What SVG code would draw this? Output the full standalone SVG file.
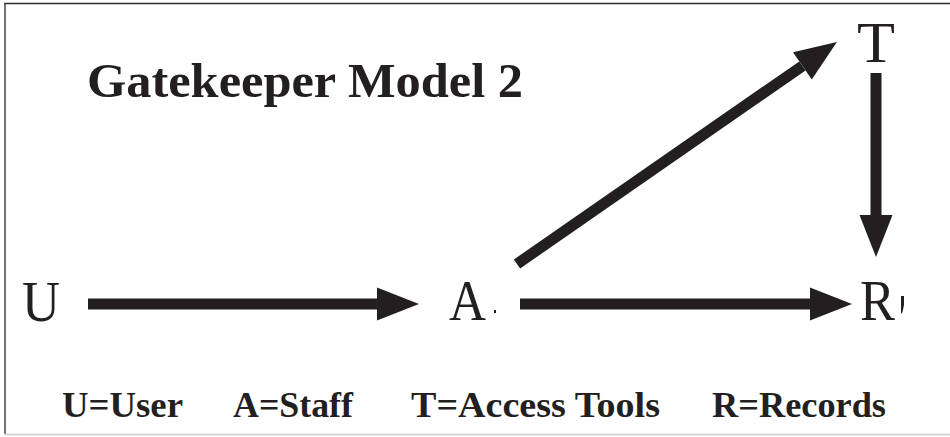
<svg xmlns="http://www.w3.org/2000/svg" width="950" height="437" viewBox="0 0 950 437">
  <style>
    .node { font-family: "Liberation Serif", "DejaVu Serif", serif; font-size: 57px; fill: #231f20; }
    .title { font-family: "Liberation Serif", "DejaVu Serif", serif; font-size: 48px; font-weight: bold; fill: #231f20; }
    .legend { font-family: "Liberation Serif", "DejaVu Serif", serif; font-size: 36px; font-weight: bold; fill: #231f20; }
    .edge { stroke: #231f20; stroke-width: 11; fill: none; marker-end: url(#head); }
  </style>
  <defs>
    <marker id="head" markerUnits="userSpaceOnUse" markerWidth="42" markerHeight="33" refX="0" refY="16.5" orient="auto" overflow="visible">
      <path d="M0,0 L42,16.5 L0,33 Z" fill="#231f20"/>
    </marker>
  </defs>

  <rect width="950" height="437" fill="#ffffff"/>

  <!-- frame: top and left rules, pale bottom rule -->
  <line x1="4" y1="3.5" x2="950" y2="3.5" stroke="#2a2a2a" stroke-width="1.5"/>
  <line x1="5" y1="3" x2="5" y2="434" stroke="#444444" stroke-width="1.5"/>
  <line x1="5" y1="434.5" x2="950" y2="434.5" stroke="#d4d4d4" stroke-width="2"/>

  <text class="title" x="87" y="97" textLength="436" lengthAdjust="spacingAndGlyphs">Gatekeeper Model 2</text>

  <g id="connectors">
    <line class="edge" x1="88" y1="304" x2="377" y2="304"/>
    <line class="edge" x1="520" y1="304" x2="810" y2="304"/>
    <line class="edge" x1="876" y1="73" x2="876" y2="215"/>
    <line class="edge" x1="517" y1="264" x2="802.4" y2="65.9"/>
  </g>

  <g id="node-U">
    <text class="node" x="22" y="321" textLength="38" lengthAdjust="spacingAndGlyphs">U</text>
  </g>
  <g id="node-A">
    <text class="node" x="449" y="320" textLength="37" lengthAdjust="spacingAndGlyphs">A</text>
    <rect x="494" y="310" width="2" height="3" fill="#231f20"/>
  </g>
  <g id="node-T">
    <text class="node" x="857" y="62" textLength="38" lengthAdjust="spacingAndGlyphs">T</text>
  </g>
  <g id="node-R">
    <text class="node" x="860" y="320" textLength="35" lengthAdjust="spacingAndGlyphs">R</text>
    <path d="M901,296 L904,296 L904,305 L902.5,312 L901,314 Z" fill="#231f20"/>
  </g>

  <g id="legend">
    <text class="legend" x="62" y="417" textLength="121" lengthAdjust="spacingAndGlyphs">U=User</text>
    <text class="legend" x="233" y="417" textLength="120" lengthAdjust="spacingAndGlyphs">A=Staff</text>
    <text class="legend" x="411" y="417" textLength="249" lengthAdjust="spacingAndGlyphs">T=Access Tools</text>
    <text class="legend" x="712" y="417" textLength="174" lengthAdjust="spacingAndGlyphs">R=Records</text>
  </g>
</svg>
